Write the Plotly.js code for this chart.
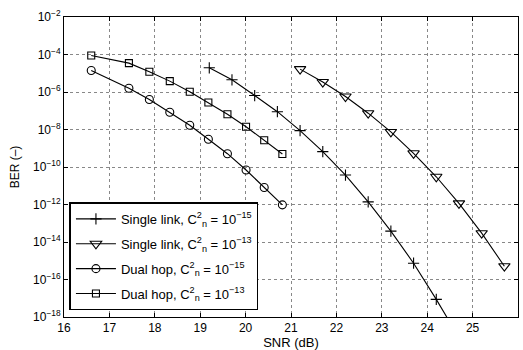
<!DOCTYPE html>
<html>
<head>
<meta charset="utf-8">
<script src="https://cdn.plot.ly/plotly-3.0.1.min.js"></script>
<style>html,body{margin:0;padding:0;background:#fff;}#chart{width:523px;height:350px;}</style>
</head>
<body>
<div id="chart"></div>
<script>
// SNR (dB) values
const snrSingle = [19.2, 19.7, 20.2, 20.7, 21.2, 21.7, 22.2, 22.7, 23.2, 23.7, 24.2, 24.7];
const snrSingle13 = [21.2, 21.7, 22.2, 22.7, 23.2, 23.7, 24.2, 24.7, 25.2, 25.7];
const snrDual = [16.6, 17.43, 17.88, 18.33, 18.77, 19.18, 19.6, 20.01, 20.41, 20.81];
// log10(BER)
const logBerSingle15 = [-4.71, -5.35, -6.19, -7.05, -8.06, -9.18, -10.43, -11.86, -13.42, -15.13, -17.06, -19.1];
const logBerSingle13 = [-4.78, -5.47, -6.24, -7.13, -8.13, -9.27, -10.52, -11.94, -13.53, -15.29];
const logBerDual15 = [-4.85, -5.80, -6.40, -7.08, -7.77, -8.52, -9.29, -10.16, -11.09, -12.02];
const logBerDual13 = [-4.05, -4.46, -4.92, -5.42, -5.99, -6.56, -7.19, -7.85, -8.57, -9.31];
const seriesNames = [
  'Single link, C<sup>2</sup><sub>n</sub> = 10<sup>−15</sup>',
  'Single link, C<sup>2</sup><sub>n</sub> = 10<sup>−13</sup>',
  'Dual hop, C<sup>2</sup><sub>n</sub> = 10<sup>−15</sup>',
  'Dual hop, C<sup>2</sup><sub>n</sub> = 10<sup>−13</sup>'
];
const yTickVals = [1e-2, 1e-4, 1e-6, 1e-8, 1e-10, 1e-12, 1e-14, 1e-16, 1e-18];
const yTickText = ['10<sup>−2</sup>','10<sup>−4</sup>','10<sup>−6</sup>','10<sup>−8</sup>','10<sup>−10</sup>','10<sup>−12</sup>','10<sup>−14</sup>','10<sup>−16</sup>','10<sup>−18</sup>'];
const xTickVals = [16,17,18,19,20,21,22,23,24,25,26];

const pow10 = a => a.map(v => Math.pow(10, v));
function tr(x, ylog, name, symbol, size, grp) {
  return {
    x: x, y: pow10(ylog), name: name, type: 'scatter', mode: 'lines+markers',
    legendgroup: grp,
    line: {color: '#000', width: 1.1},
    marker: {symbol: symbol, size: size, color: '#000', line: {color: '#000', width: 1.1}},
    cliponaxis: true
  };
}
const data = [
  tr(snrSingle, logBerSingle15, seriesNames[0], 'cross-thin-open', 8, 'a'),
  tr(snrSingle13, logBerSingle13, seriesNames[1], 'triangle-down-open', 10, 'b'),
  tr(snrDual, logBerDual15, seriesNames[2], 'circle-open', 8, 'c'),
  tr(snrDual, logBerDual13, seriesNames[3], 'square-open', 7, 'd')
];
const font = {family: 'Liberation Sans, Arial, sans-serif', size: 12, color: '#000'};
const bigFont = {family: 'Liberation Sans, Arial, sans-serif', size: 13, color: '#000'};
const layout = {
  width: 523, height: 350,
  margin: {l: 63.5, r: 5.3, t: 17.3, b: 33.3},
  paper_bgcolor: '#fff', plot_bgcolor: '#fff',
  font: font,
  showlegend: true,
  xaxis: {
    range: [16, 26], tickvals: xTickVals, ticks: 'inside', ticklen: 4, tickcolor: '#000',
    showline: true, linecolor: '#000', linewidth: 1, mirror: 'ticks',
    showgrid: true, gridcolor: '#888', griddash: 'dot', gridwidth: 1, zeroline: false,
    title: {text: 'SNR (dB)', font: bigFont, standoff: 1},
    tickfont: font
  },
  yaxis: {
    type: 'log', range: [-18, -2], tickvals: yTickVals, ticktext: yTickText,
    ticks: 'inside', ticklen: 4, tickcolor: '#000',
    showline: true, linecolor: '#000', linewidth: 1, mirror: 'ticks',
    showgrid: true, gridcolor: '#888', griddash: 'dot', gridwidth: 1, zeroline: false,
    title: {text: 'BER (–)', font: font, standoff: 10},
    tickfont: font
  },
  legend: {
    x: 0.012, y: 0.382, xanchor: 'left', yanchor: 'top',
    bgcolor: '#fff', bordercolor: '#000', borderwidth: 1.5,
    font: bigFont, itemwidth: 40, traceorder: 'grouped', tracegroupgap: 5
  }
};
Plotly.newPlot('chart', data, layout, {staticPlot: true});
</script>
</body>
</html>
